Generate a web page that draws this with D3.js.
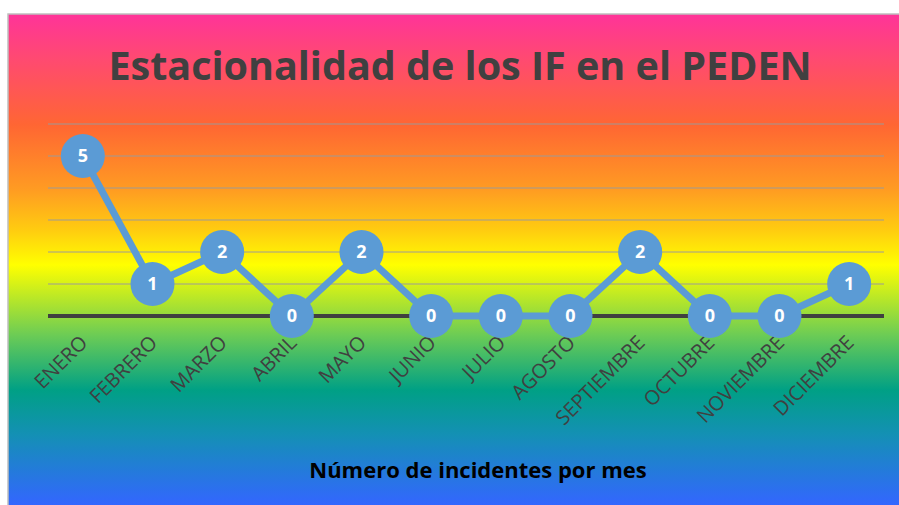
<!DOCTYPE html>
<html>
<head>
<meta charset="utf-8">
<script src="https://cdn.jsdelivr.net/npm/d3@7"></script>
<style>
    body { margin: 0; background: #ffffff; overflow: hidden; }
    svg { display: block; }
</style>
</head>
<body>
<div id="chart"></div>
<script>
// datos del grafico
const months = ['ENERO', 'FEBRERO', 'MARZO', 'ABRIL', 'MAYO', 'JUNIO', 'JULIO',
    'AGOSTO', 'SEPTIEMBRE', 'OCTUBRE', 'NOVIEMBRE', 'DICIEMBRE'];
const incidents = [5, 1, 2, 0, 2, 0, 0, 0, 2, 0, 0, 1];
const yTicks = [1, 2, 3, 4, 5, 6];
const chartTitle = 'Estacionalidad de los IF en el PEDEN';
const axisTitle = 'Número de incidentes por mes';

const width = 899, height = 505;
const frame = { x: 8, y: 14 };
const plot = { left: 48, right: 884, top: 124, bottom: 316 };

const svg = d3.select('#chart').append('svg')
    .attr('width', width)
    .attr('height', height);

// fondo degradado
const grad = svg.append('defs').append('linearGradient')
    .attr('id', 'bg')
    .attr('gradientUnits', 'userSpaceOnUse')
    .attr('x1', 0).attr('y1', frame.y)
    .attr('x2', 0).attr('y2', height);

const stops = [
    [14, '#ff3399'], [60, '#ff4a70'], [125, '#ff6633'], [190, '#ff9c22'],
    [230, '#ffcc10'], [265, '#ffff00'], [300, '#b5e62a'], [335, '#6ccc55'],
    [390, '#00a085'], [435, '#1490b5'], [505, '#3366ff']
];
stops.forEach(([y, c]) => {
    grad.append('stop')
        .attr('offset', (y - frame.y) / (height - frame.y))
        .attr('stop-color', c);
});

svg.append('rect')
    .attr('x', frame.x).attr('y', frame.y)
    .attr('width', width - frame.x + 2).attr('height', height - frame.y + 2)
    .attr('fill', 'url(#bg)')
    .attr('stroke', '#bfbfbf')
    .attr('stroke-width', 1.5);

const x = d3.scaleBand()
    .domain(months)
    .range([plot.left, plot.right])
    .padding(0);

const y = d3.scaleLinear()
    .domain([0, 6])
    .range([plot.bottom, plot.top]);

// lineas de cuadricula
svg.append('g')
    .selectAll('line')
    .data(yTicks)
    .enter().append('line')
    .attr('x1', plot.left).attr('x2', plot.right)
    .attr('y1', d => y(d)).attr('y2', d => y(d))
    .attr('stroke', '#9a9a9a')
    .attr('stroke-opacity', 0.65)
    .attr('stroke-width', 1.5);

// eje cero
svg.append('line')
    .attr('x1', plot.left).attr('x2', plot.right)
    .attr('y1', y(0)).attr('y2', y(0))
    .attr('stroke', '#404040')
    .attr('stroke-width', 4);

// titulo
svg.append('text')
    .attr('x', 460).attr('y', 80)
    .attr('text-anchor', 'middle')
    .style('font-family', '"Open Sans", sans-serif')
    .style('font-weight', 'bold')
    .style('font-size', '39.5px')
    .attr('fill', '#404040')
    .text(chartTitle);

// etiquetas de categoria
svg.append('g')
    .selectAll('text')
    .data(months)
    .enter().append('text')
    .attr('transform', d => `translate(${x(d) + x.bandwidth() / 2 + 6},${plot.bottom + 28}) rotate(-45)`)
    .attr('text-anchor', 'end')
    .style('font-family', '"Open Sans", sans-serif')
    .style('font-size', '20px')
    .attr('fill', '#404040')
    .text(d => d);

// serie
const cx = (d, i) => x(months[i]) + x.bandwidth() / 2;

svg.append('path')
    .datum(incidents)
    .attr('fill', 'none')
    .attr('stroke', '#5b9bd5')
    .attr('stroke-width', 7)
    .attr('stroke-linejoin', 'round')
    .attr('d', d3.line().x(cx).y(d => y(d)));

const marks = svg.append('g')
    .selectAll('g')
    .data(incidents)
    .enter().append('g')
    .attr('transform', (d, i) => `translate(${cx(d, i)},${y(d)})`);

marks.append('circle')
    .attr('r', 22)
    .attr('fill', '#5b9bd5');

marks.append('text')
    .attr('text-anchor', 'middle')
    .attr('dy', '0.36em')
    .style('font-family', '"Open Sans", sans-serif')
    .style('font-weight', 'bold')
    .style('font-size', '18px')
    .attr('fill', '#ffffff')
    .text(d => d);

// titulo del eje
svg.append('text')
    .attr('x', 478).attr('y', 478)
    .attr('text-anchor', 'middle')
    .style('font-family', '"Open Sans", sans-serif')
    .style('font-weight', 'bold')
    .style('font-size', '22px')
    .attr('fill', '#000000')
    .text(axisTitle);
</script>
</body>
</html>
